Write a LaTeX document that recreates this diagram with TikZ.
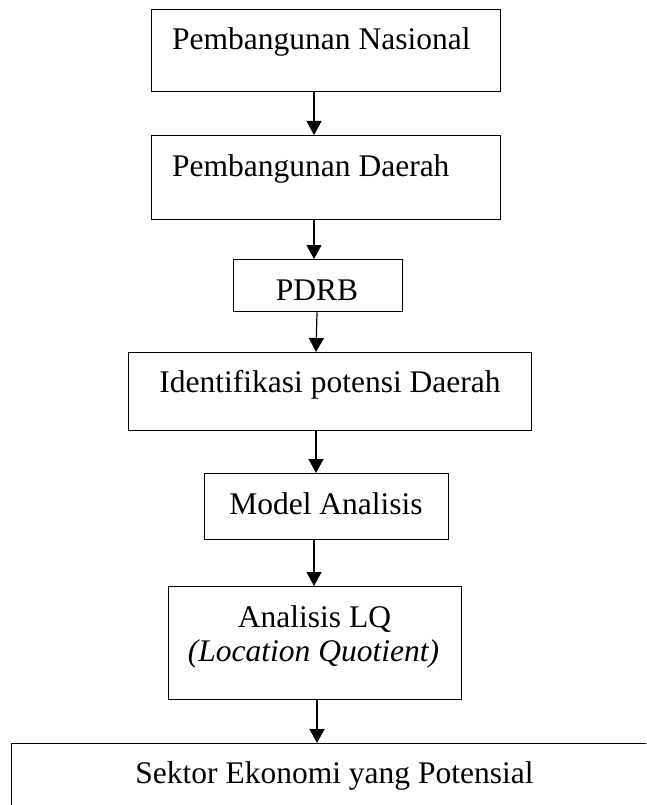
\documentclass[tikz,border=0pt]{standalone}
\usepackage{fontspec}
\setmainfont{Liberation Serif}
\usetikzlibrary{arrows.meta}
\begin{document}
\begin{tikzpicture}[x=1pt,y=-1pt,
  box/.style={draw=black, line width=1.4pt, inner sep=0pt, anchor=north west},
  lbl/.style={inner sep=0pt, font=\fontsize{31.5}{37}\selectfont},
  arr/.style={line width=1.2pt, -{Triangle[width=15pt,length=14pt]}}]
\useasboundingbox (0,0) rectangle (646,805);
% boxes
\node[box, minimum width=349pt, minimum height=82pt] (b1) at (151,9) {};
\node[box, minimum width=349pt, minimum height=84pt] (b2) at (151,135) {};
\node[box, minimum width=169pt, minimum height=52pt] (b3) at (233,259) {};
\node[box, minimum width=403pt, minimum height=78pt] (b4) at (128,352) {};
\node[box, minimum width=244pt, minimum height=66pt] (b5) at (204,473) {};
\node[box, minimum width=293pt, minimum height=113pt] (b6) at (168,586) {};
\begin{scope}
\clip (0,0) rectangle (646,805);
\node[box, minimum width=647pt, minimum height=90pt] (b7) at (11,743) {};
\end{scope}
% texts
\node[lbl, anchor=base west] (t1) at (172,50) {Pembangunan Nasional};
\node[lbl, anchor=base west] (t2) at (172,177) {Pembangunan Daerah};
\node[lbl, anchor=base] (t3) at (317,300) {PDRB};
\node[lbl, anchor=base] (t4) at (330,392) {Identifikasi potensi Daerah};
\node[lbl, anchor=base] (t5) at (326,514) {Model Analisis};
\node[lbl, anchor=base] (t6a) at (314.5,627) {Analisis LQ};
\node[lbl, anchor=base] (t6b) at (313.5,661) {\textit{(Location Quotient)}};
\node[lbl, anchor=base] (t7) at (334.5,783) {Sektor Ekonomi yang Potensial};
% arrow columns
\coordinate (c1) at (314,0);
\coordinate (c3) at (317,0);
\coordinate (c4) at (316,0);
\coordinate (c6) at (317,0);
% arrows
\draw[arr] (b1.south -| c1) -- (b2.north -| c1);
\draw[arr] (b2.south -| c1) -- (b3.north -| c1);
\draw[arr] (b3.south -| c3) -- (b4.north -| c4);
\draw[arr] (b4.south -| c4) -- (b5.north -| c4);
\draw[arr] (b5.south -| c1) -- (b6.north -| c1);
\draw[arr] (b6.south -| c6) -- (b7.north -| c6);
\end{tikzpicture}
\end{document}
